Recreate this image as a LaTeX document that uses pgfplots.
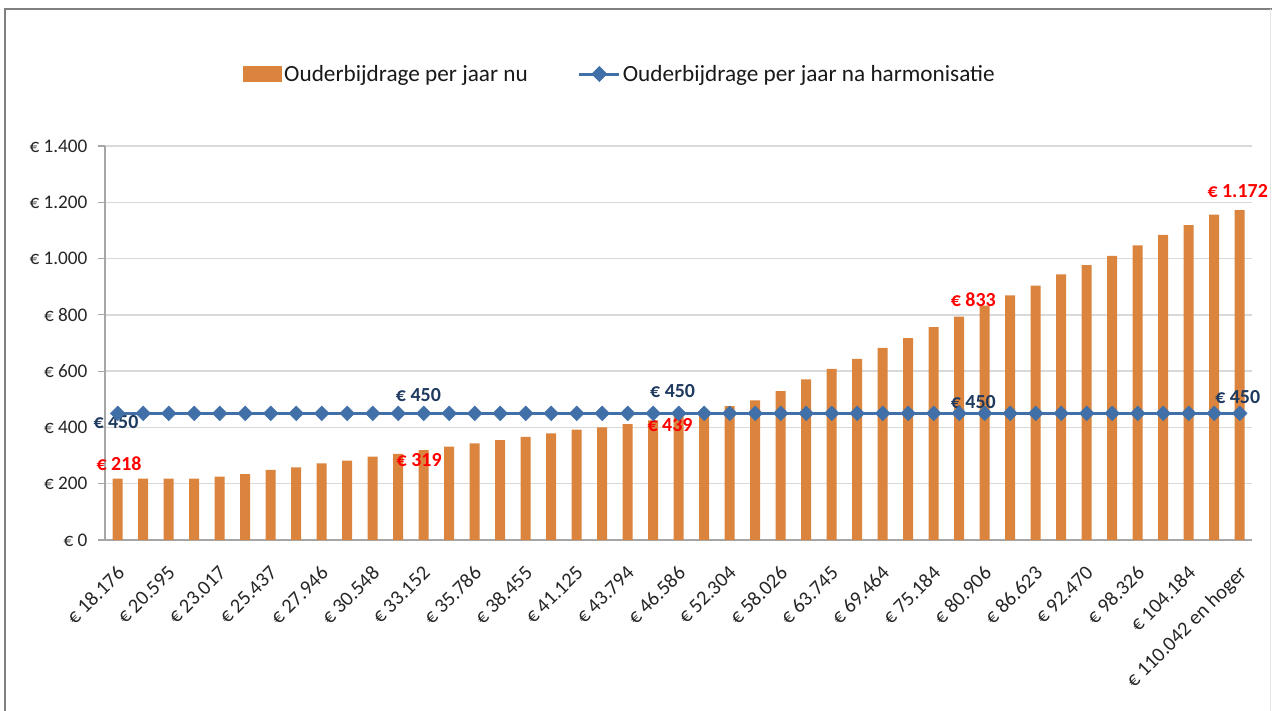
\documentclass[border=0pt]{standalone}
\usepackage{pgfplots}
\pgfplotsset{compat=1.18}
\usepackage{fontspec}
\setmainfont{Carlito}
\definecolor{barorange}{HTML}{DA843D}
\definecolor{lineblue}{HTML}{4170A8}
\definecolor{navy}{HTML}{1F3A5F}
\definecolor{gridgray}{HTML}{D9D9D9}
\definecolor{axisgray}{HTML}{A6A6A6}
\begin{document}
\begin{tikzpicture}
\useasboundingbox (-105bp,-171bp) rectangle (1167bp,540bp);
\draw[gray, line width=2bp] (-100bp,-171bp) -- (-100bp,531bp) -- (1167bp,531bp);
\draw[gray!20, line width=1bp] (1165bp,531bp) -- (1165bp,-171bp);
\begin{axis}[
  at={(0,0)}, anchor=south west,
  scale only axis, width=1147.5bp, height=394bp,
  xmin=-0.5, xmax=44.5, ymin=0, ymax=1400,
  clip=false,
  font=\fontsize{19.3}{22}\selectfont,
  axis x line*=bottom, axis y line*=left,
  axis line style={axisgray, line width=1.2bp},
  ymajorgrids, grid style={gridgray, line width=1.3bp},
  ytick={0,200,...,1400},
  yticklabels={€ 0,€ 200,€ 400,€ 600,€ 800,€ 1.000,€ 1.200,€ 1.400},
  xtick={0,2,...,44},
  xticklabels={€ 18.176,€ 20.595,€ 23.017,€ 25.437,€ 27.946,€ 30.548,€ 33.152,€ 35.786,€ 38.455,€ 41.125,€ 43.794,€ 46.586,€ 52.304,€ 58.026,€ 63.745,€ 69.464,€ 75.184,€ 80.906,€ 86.623,€ 92.470,€ 98.326,€ 104.184,€ 110.042 en hoger},
  minor xtick={-0.5,0.5,...,44.5},
  tick align=outside,
  xtick style={draw=none},
  minor tick length=7bp,
  ytick style={axisgray, line width=1.2bp},
  minor x tick style={axisgray, line width=1.2bp},
  major tick length=7bp,
  xticklabel style={xshift=-2bp, yshift=-16bp, rotate=45, anchor=north east, inner sep=1bp,
    text=black!85, font=\fontsize{20.5}{23}\selectfont},
  yticklabel style={text=black!85, xshift=-7bp},
  legend columns=2,
  legend style={at={(0.1203,1.1827)}, anchor=west, draw=none, inner sep=0pt,
    font=\fontsize{23.3}{26}\selectfont,
    nodes={inner sep=2bp, text=black!90},
    /tikz/every even column/.append style={column sep=48bp}},
  legend cell align=left,
]
\addplot[ybar, bar width=10bp, fill=barorange, draw=none,
  legend image code/.code={\fill[barorange] (0bp,-8bp) rectangle (39bp,8bp);}]
  coordinates {
  (0,218) (1,218) (2,218) (3,218) (4,225) (5,234) (6,249) (7,258) (8,272) (9,282)
  (10,296) (11,306) (12,319) (13,332) (14,343) (15,355) (16,366) (17,379) (18,392) (19,400)
  (20,412) (21,425) (22,439) (23,457) (24,476) (25,496) (26,529) (27,571) (28,608) (29,644)
  (30,683) (31,717) (32,756) (33,794) (34,833) (35,869) (36,904) (37,944) (38,977) (39,1010)
  (40,1047) (41,1084) (42,1119) (43,1156) (44,1172)};
\addlegendentry{Ouderbijdrage per jaar nu}
\addplot[color=lineblue, line width=3.5bp, mark=square*, mark size=5.2bp,
  mark options={rotate=45, solid, line width=0.5bp},
  legend image code/.code={\draw[lineblue, line width=3bp] (0bp,0bp) -- (40bp,0bp);
    \fill[lineblue] (20bp,5.5bp) -- (25.5bp,0bp) -- (20bp,-5.5bp) -- (14.5bp,0bp) -- cycle;}]
  coordinates {
  (0,450) (1,450) (2,450) (3,450) (4,450) (5,450) (6,450) (7,450) (8,450) (9,450)
  (10,450) (11,450) (12,450) (13,450) (14,450) (15,450) (16,450) (17,450) (18,450) (19,450)
  (20,450) (21,450) (22,450) (23,450) (24,450) (25,450) (26,450) (27,450) (28,450) (29,450)
  (30,450) (31,450) (32,450) (33,450) (34,450) (35,450) (36,450) (37,450) (38,450) (39,450)
  (40,450) (41,450) (42,450) (43,450) (44,450)};
\addlegendentry{Ouderbijdrage per jaar na harmonisatie}
\begin{scope}[every node/.style={font=\fontsize{20}{23}\selectfont\bfseries, inner sep=0pt}]
\node[text=red] at (axis cs:0.05,270) {€ 218};
\node[text=red] at (axis cs:11.82,284) {€ 319};
\node[text=red] at (axis cs:21.66,409) {€ 439};
\node[text=red] at (axis cs:33.55,855) {€ 833};
\node[text=red] at (axis cs:43.92,1241) {€ 1.172};
\node[text=navy] at (axis cs:-0.07,418) {€ 450};
\node[text=navy] at (axis cs:11.79,515) {€ 450};
\node[text=navy] at (axis cs:21.76,529) {€ 450};
\node[text=navy] at (axis cs:33.55,491) {€ 450};
\node[text=navy] at (axis cs:43.92,509) {€ 450};
\end{scope}
\end{axis}
\end{tikzpicture}
\end{document}
